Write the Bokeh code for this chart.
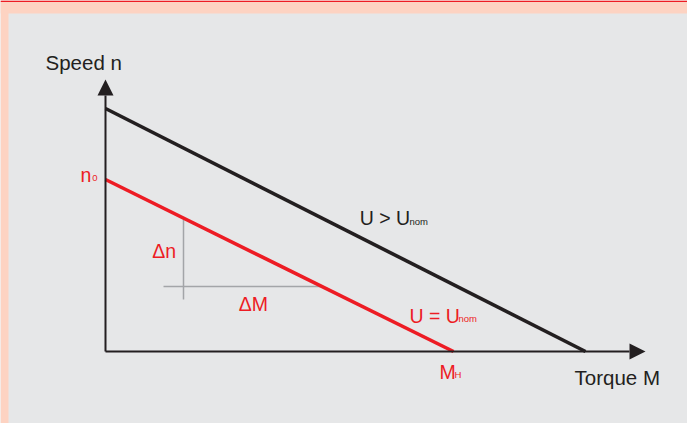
from bokeh.plotting import figure
from bokeh.models import Range1d, BoxAnnotation, Arrow, NormalHead
from bokeh.core.properties import value
from bokeh.embed import file_html
from bokeh.resources import INLINE

# ---- data (units: torque / speed, arbitrary) ----
torque_high = [0.0, 4.80]      # U > U_nom line: torque endpoints
speed_high = [2.43, 0.0]       # U > U_nom line: speed endpoints
torque_nom = [0.0, 3.48]       # U = U_nom line
speed_nom = [1.72, 0.0]
axis_x_end = 5.40
axis_y_end = 2.72
delta_n_x = [0.78, 0.78]
delta_n_y = [0.52, 1.32]
delta_m_x = [0.58, 2.15]
delta_m_y = [0.65, 0.65]

# axis titles
axis_labels = ["Speed n", "Torque M"]
axis_lab_x = [-0.60, 4.69]
axis_lab_y = [2.895, -0.255]

# annotation labels
main_labels = ["n", "\u0394n", "\u0394M", "U = U", "U > U", "M"]
main_x = [-0.25, 0.467, 1.333, 3.04, 2.543, 3.34]
main_y = [1.765, 1.002, 0.475, 0.355, 1.335, -0.205]
main_col = ["#ed1c24", "#ed1c24", "#ed1c24", "#ed1c24", "#231f20", "#ed1c24"]
sub_labels = ["0", "nom", "nom", "H"]
sub_x = [-0.133, 3.53, 3.04, 3.49]
sub_y = [1.74, 0.328, 1.302, -0.23]
sub_col = ["#ed1c24", "#ed1c24", "#231f20", "#ed1c24"]

RED = "#ed1c24"
BLACK = "#231f20"
BG = "#e6e7e8"
SALMON = "#fdd3c2"
GRAY = "#a3a5a8"

p = figure(width=687, height=423, output_backend="svg", toolbar_location=None,
           x_range=Range1d(-1.05, 5.82), y_range=Range1d(-0.72, 3.51),
           min_border=0, min_border_left=0, min_border_right=0,
           min_border_top=0, min_border_bottom=0)
p.axis.visible = False
p.grid.visible = False
p.outline_line_color = None
p.background_fill_color = BG
p.border_fill_color = BG

# frame decoration: salmon bands on top and left, thin red rule on top
p.add_layout(BoxAnnotation(right=-0.97, fill_color=SALMON, fill_alpha=1.0, line_alpha=0))
p.add_layout(BoxAnnotation(bottom=3.38, fill_color=SALMON, fill_alpha=1.0, line_alpha=0))
p.add_layout(BoxAnnotation(bottom=3.495, fill_color=RED, fill_alpha=1.0, line_alpha=0))

# helper lines
p.line(delta_n_x, delta_n_y, line_color=GRAY, line_width=1.5)
p.line(delta_m_x, delta_m_y, line_color=GRAY, line_width=1.5)

# axes with arrow heads
p.add_layout(Arrow(x_start=0, y_start=0, x_end=axis_x_end, y_end=0, line_color=BLACK, line_width=2,
                   end=NormalHead(size=16, fill_color=BLACK, line_color=BLACK, line_width=0)))
p.add_layout(Arrow(x_start=0, y_start=0, x_end=0, y_end=axis_y_end, line_color=BLACK, line_width=2,
                   end=NormalHead(size=16, fill_color=BLACK, line_color=BLACK, line_width=0)))

# characteristic lines
p.line(torque_high, speed_high, line_color=BLACK, line_width=3.6)
p.line(torque_nom, speed_nom, line_color=RED, line_width=3.6)

p.text(axis_lab_x, axis_lab_y, text=axis_labels, text_color=BLACK, text_font=value("Liberation Sans"),
       text_font_size="20.5px", text_baseline="alphabetic", text_align="left")
p.text(main_x, main_y, text=main_labels, text_color=main_col, text_font=value("Liberation Sans"),
       text_font_size="19.5px", text_baseline="alphabetic", text_align="left")
p.text(sub_x, sub_y, text=sub_labels, text_color=sub_col, text_font=value("Liberation Sans"),
       text_font_size="9.5px", text_baseline="alphabetic", text_align="left")

open("out.html", "w").write(file_html(p, INLINE))
